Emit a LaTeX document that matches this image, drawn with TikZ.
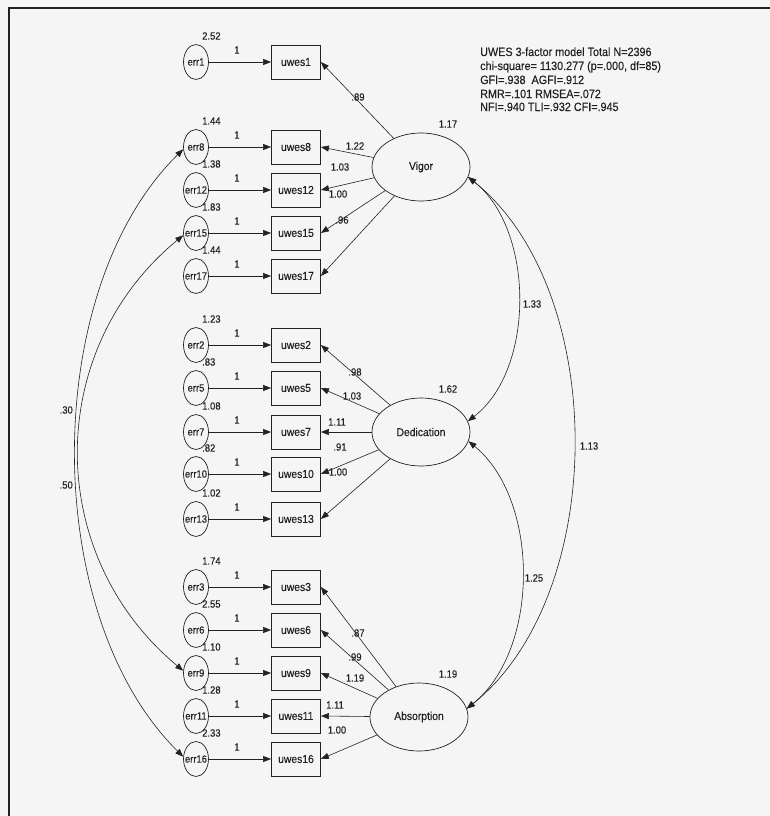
\documentclass[tikz,border=0pt]{standalone}
\usepackage{fontspec}
\setmainfont{Liberation Sans}[FakeStretch=0.9,FakeBold=0.3]
\usetikzlibrary{arrows.meta,shapes.geometric}
\definecolor{bgc}{HTML}{F5F5F5}
\definecolor{ink}{HTML}{222222}
\newcommand\zw[1]{\makebox[0pt]{#1}}
\begin{document}
\begin{tikzpicture}[x=1pt,y=-1pt,
  errc/.style={ellipse,draw=ink,line width=0.7pt,minimum width=25pt,minimum height=35pt,inner sep=0pt,font=\fontsize{10.5}{12}\selectfont,text=ink},
  obs/.style={rectangle,draw=ink,line width=0.8pt,minimum width=49pt,minimum height=34pt,inner sep=0pt,font=\fontsize{11.5}{13}\selectfont,text=ink},
  fac/.style={ellipse,draw=ink,line width=0.7pt,minimum width=98pt,minimum height=68pt,inner sep=0pt,font=\fontsize{11.5}{13}\selectfont,text=ink},
  lbl/.style={inner sep=0pt,font=\fontsize{10.5}{12}\selectfont,text=ink},
  stat/.style={inner sep=0pt,anchor=base west,font=\fontsize{12}{14}\selectfont,text=ink},
  arr/.style={-{Triangle[length=8pt,width=6pt]},draw=ink,line width=0.6pt},
  cov/.style={{Triangle[length=8pt,width=6pt]}-{Triangle[length=8pt,width=6pt]},draw=ink,line width=0.6pt}]
\fill[bgc] (0,0) rectangle (770,816);
\useasboundingbox (0,0) rectangle (770,816);
\draw[ink,line width=1.6pt] (9,816) -- (9,8) -- (770,8);

% statistics
\node[stat] (st1) at (480,56) {UWES 3-factor model Total N=2396};
\node[stat] (st2) at (480,70) {chi-square= 1130.277 (p=.000, df=85)};
\node[stat] (st3) at (480,84) {GFI=.938\ \ AGFI=.912};
\node[stat] (st4) at (480,98) {RMR=.101 RMSEA=.072};
\node[stat] (st5) at (480,111) {NFI=.940 TLI=.932 CFI=.945};

% factors
\node[fac] (Vigor) at (421,167) {Vigor};
\node[fac] (Dedication) at (421,432) {Dedication};
\node[fac] (Absorption) at (419,717) {Absorption};
\node[lbl] (vVigor) at (448,124) {1.17};
\node[lbl] (vDedication) at (448,389) {1.62};
\node[lbl] (vAbsorption) at (448,674) {1.19};

% error terms and indicators
\foreach \e/\u/\y/\v in {err1/uwes1/62/2.52, err8/uwes8/147/1.44, err12/uwes12/190/1.38,
  err15/uwes15/233/1.83, err17/uwes17/276/1.44,
  err2/uwes2/345/1.23, err5/uwes5/388/.83, err7/uwes7/432/1.08, err10/uwes10/474/.82, err13/uwes13/519/1.02,
  err3/uwes3/587/1.74, err6/uwes6/630/2.55, err9/uwes9/673/1.10, err11/uwes11/716/1.28, err16/uwes16/759/2.33}{
  \node[errc] (\e) at (196,\y) {\zw{\e}};
  \node[obs] (\u) at (296,\y) {\u};
  \node[lbl,anchor=west] (v\e) at (202,\y-26) {\v};
  \node[lbl] (one\e) at (237,\y-12) {1};
  \draw[arr] (\e) -- (\u);
}

% loadings
\foreach \f/\u/\x/\y/\l in {Vigor/uwes1/358/97/.89, Vigor/uwes8/355/146/1.22, Vigor/uwes12/340/167/1.03,
  Vigor/uwes15/338/194/1.00, Vigor/uwes17/342/220/.96,
  Dedication/uwes2/355/372/.98, Dedication/uwes5/352/396/1.03, Dedication/uwes7/337/422/1.11,
  Dedication/uwes10/340/447/.91, Dedication/uwes13/338/472/1.00,
  Absorption/uwes3/358/633/.87, Absorption/uwes6/355/657/.99, Absorption/uwes9/355/678/1.19,
  Absorption/uwes11/335/705/1.11, Absorption/uwes16/337/730/1.00}{
  \draw[arr] (\f) -- (\u.east);
  \node[lbl] (ld\u) at (\x,\y) {\l};
}

% factor covariances
\draw[cov] (Vigor.-12) .. controls (535,230) and (535,370) .. (Dedication.13);
\draw[cov] (Dedication.-11) .. controls (540,500) and (540,650) .. (Absorption.10);
\draw[cov] (Vigor.-12) .. controls (609,290) and (609,595) .. (Absorption.10);
\node[lbl] (c133) at (532,304) {1.33};
\node[lbl] (c125) at (534,578) {1.25};
\node[lbl] (c113) at (589,446) {1.13};

% error covariances
\draw[cov] (err8.190) .. controls (40,290) and (40,615) .. (err16.170);
\draw[cov] (err15.190) .. controls (44,350) and (44,555) .. (err9.170);
\node[lbl,anchor=east] (c30) at (73,410) {.30};
\node[lbl,anchor=east] (c50) at (73,485) {.50};
\end{tikzpicture}
\end{document}
